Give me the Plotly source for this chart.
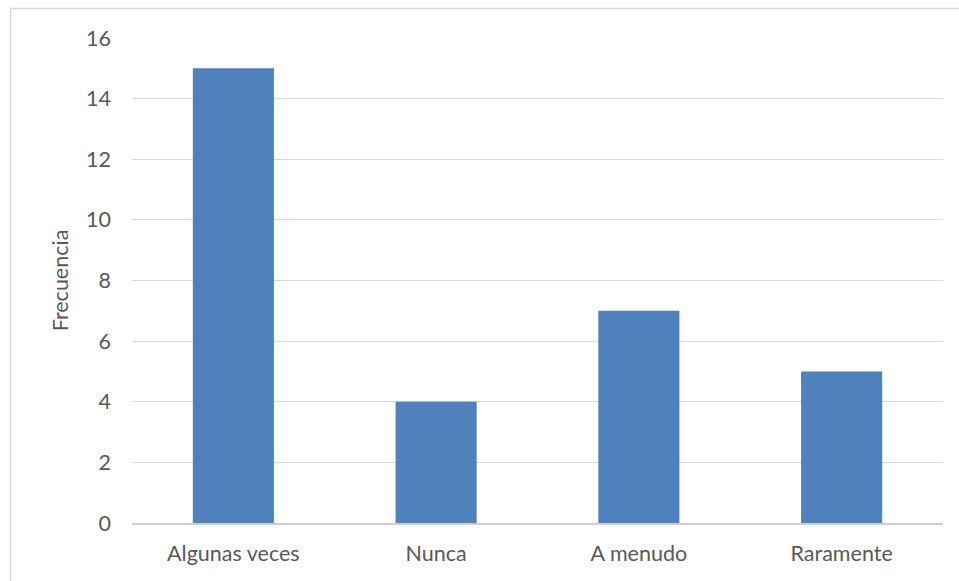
import plotly.graph_objects as go

categories = ["Algunas veces", "Nunca", "A menudo", "Raramente"]
values = [15, 4, 7, 5]
y_ticks = [0, 2, 4, 6, 8, 10, 12, 14, 16]

fig = go.Figure(go.Bar(x=categories, y=values, marker_color="#4F81BD",
                       marker_line_width=0))

W, H = 959, 581
L, R, T, B = 132, 16, 38, 58
pw, ph = W - L - R, H - T - B

def px_x(p):
    return (p - L) / pw

def px_y(p):
    return (H - B - p) / ph

fig.update_layout(
    width=W, height=H,
    margin=dict(l=L, r=R, t=T, b=B),
    paper_bgcolor="white", plot_bgcolor="white",
    bargap=0.6,
    font=dict(family="Lato, Open Sans, sans-serif", color="#595959", size=21.5),
    showlegend=False,
    shapes=[dict(type="rect", xref="paper", yref="paper",
                 x0=px_x(10.5), x1=px_x(1000), y0=px_y(8.5), y1=px_y(700),
                 line=dict(color="#D9D9D9", width=1.5), fillcolor="rgba(0,0,0,0)",
                 layer="below")],
)
fig.update_yaxes(range=[0, 16], tickvals=y_ticks, showgrid=True, gridcolor="#D9D9D9",
                 gridwidth=1, zeroline=False, showline=False, ticks="",
                 ticklabelstandoff=20,
                 title=dict(text="Frecuencia", standoff=11, font=dict(size=21.5)))
fig.update_xaxes(showgrid=False, showline=True, linecolor="#CFCFCF", linewidth=1.5,
                 ticks="", ticklabelstandoff=10)

fig.write_html("out.html")
